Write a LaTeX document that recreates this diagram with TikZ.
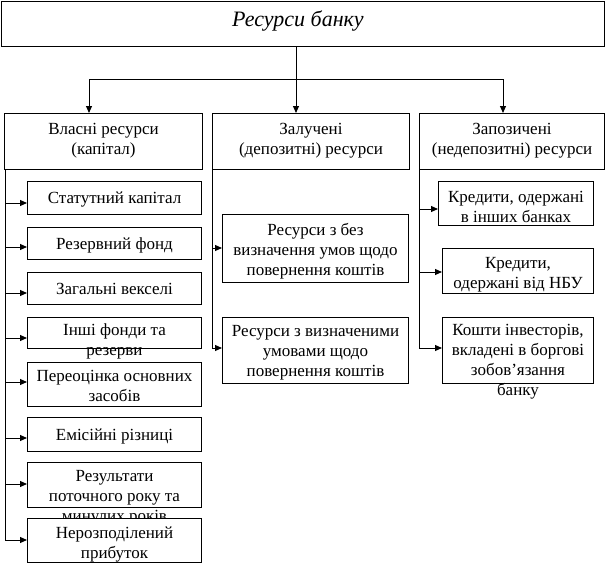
\documentclass[tikz,border=0pt]{standalone}
\usepackage{fontspec}
\setmainfont{Liberation Serif}
\usetikzlibrary{arrows.meta,calc}
\begin{document}
\begin{tikzpicture}[x=1pt,y=-1pt, line width=1pt,
  box/.style={draw, fill=white, inner sep=0pt, anchor=north west},
  txt/.style={font=\fontsize{17}{20}\selectfont, align=center, inner sep=0pt, anchor=north, execute at begin node=\strut},
  arr/.style={-{Triangle[length=7pt,width=6pt]}}]
\useasboundingbox (0,0) rectangle (606,565);
% title
\node[box, minimum width=603pt, minimum height=45pt] (title) at (1,1) {};
\node[font=\fontsize{22}{26}\selectfont\itshape, anchor=base, inner sep=0pt] (titlet) at (298,26) {Ресурси банку};
% level 2
\node[box, minimum width=198pt, minimum height=56pt] (L) at (4,113) {};
\node[txt] (Lt) at ($(L.north)+(0,10)$) {Власні ресурси\\(капітал)};
\node[box, minimum width=197pt, minimum height=56pt] (M) at (212,113) {};
\node[txt] (Mt) at ($(M.north)+(0,10)$) {Залучені\\(депозитні) ресурси};
\node[box, minimum width=185pt, minimum height=56pt] (R) at (419,113) {};
\node[txt] (Rt) at ($(R.north)+(0,10)$) {Запозичені\\(недепозитні) ресурси};
% top connectors
\coordinate (jm) at (296,79);
\coordinate (jl) at (89,79);
\coordinate (jr) at (503,79);
\draw[arr] (title.south -| jm) -- (M.north -| jm);
\draw (jl) -- (jr);
\draw[arr] (jl) -- (L.north -| jl);
\draw[arr] (jr) -- (R.north -| jr);
% left column
\node[box, minimum width=174pt, minimum height=33pt] (l1) at (27,181) {};
\node[txt] (l1t) at ($(l1.north)+(0,8)$) {Статутний капітал};
\node[box, minimum width=174pt, minimum height=32pt] (l2) at (27,227) {};
\node[txt] (l2t) at ($(l2.north)+(0,8)$) {Резервний фонд};
\node[box, minimum width=174pt, minimum height=32pt] (l3) at (27,272) {};
\node[txt] (l3t) at ($(l3.north)+(0,8)$) {Загальні векселі};
\node[box, minimum width=174pt, minimum height=31pt] (l4) at (27,317) {};
\node[txt] (l4t) at ($(l4.north)+(0,6)$) {Інші фонди та\\резерви};
\node[box, minimum width=174pt, minimum height=44pt] (l5) at (27,362) {};
\node[txt] (l5t) at ($(l5.north)+(0,8)$) {Переоцінка основних\\засобів};
\node[box, minimum width=174pt, minimum height=34pt] (l6) at (27,417) {};
\node[txt] (l6t) at ($(l6.north)+(0,9)$) {Емісійні різниці};
\node[box, minimum width=174pt, minimum height=45pt] (l7) at (27,462) {};
\node[txt] (l7t) at ($(l7.north)+(0,8)$) {Результати\\поточного року та\\минулих років};
\node[box, minimum width=174pt, minimum height=44pt] (l8) at (27,518) {};
\node[txt] (l8t) at ($(l8.north)+(0,8)$) {Нерозподілений\\прибуток};
\coordinate (ls) at (5,540);
\draw (L.south -| ls) -- (ls);
\foreach \n/\yy in {l1/203, l2/247, l3/293, l4/338, l5/382, l6/438, l7/484, l8/540}{
  \coordinate (a\n) at (5,\yy);
  \draw[arr] (a\n) -- (a\n -| \n.west);
}
% middle column
\node[box, minimum width=186pt, minimum height=68pt] (m1) at (222,214) {};
\node[txt] (m1t) at ($(m1.north)+(0,9)$) {Ресурси з без\\визначення умов щодо\\повернення коштів};
\node[box, minimum width=186pt, minimum height=66pt] (m2) at (222,317) {};
\node[txt] (m2t) at ($(m2.north)+(0,8)$) {Ресурси з визначеними\\умовами щодо\\повернення коштів};
\coordinate (ms) at (212,348);
\draw (M.south -| ms) -- (ms);
\foreach \n/\yy in {m1/248, m2/348}{
  \coordinate (a\n) at (212,\yy);
  \draw[arr] (a\n) -- (a\n -| \n.west);
}
% right column
\node[box, minimum width=155pt, minimum height=44pt] (r1) at (438,181) {};
\node[txt] (r1t) at ($(r1.north)+(0,10)$) {Кредити, одержані\\в інших банках};
\node[box, minimum width=151pt, minimum height=45pt] (r2) at (442,248) {};
\node[txt] (r2t) at ($(r2.north)+(0,9)$) {Кредити,\\одержані від НБУ};
\node[box, minimum width=151pt, minimum height=66pt] (r3) at (442,317) {};
\node[txt] (r3t) at ($(r3.north)+(0,7)$) {Кошти інвесторів,\\вкладені в боргові\\зобов’язання\\банку};
\coordinate (rs) at (419,348);
\draw (R.south -| rs) -- (rs);
\foreach \n/\yy in {r1/209, r2/272, r3/348}{
  \coordinate (a\n) at (419,\yy);
  \draw[arr] (a\n) -- (a\n -| \n.west);
}
\end{tikzpicture}
\end{document}
